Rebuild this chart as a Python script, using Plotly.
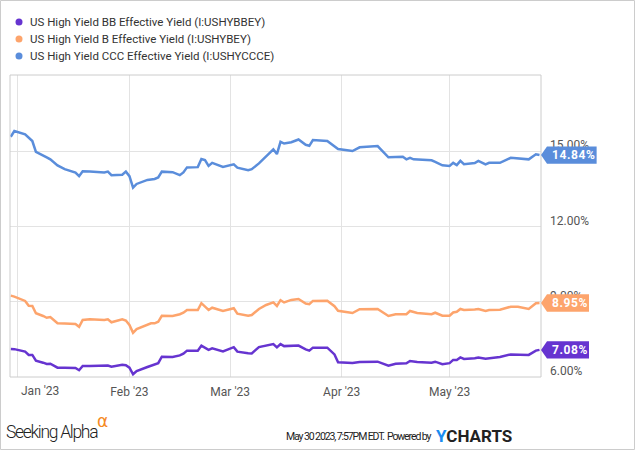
import plotly.graph_objects as go

# ---------------- data ----------------
dates = [
    "2022-12-30", "2022-12-31", "2023-01-03", "2023-01-04", "2023-01-05", "2023-01-06",
    "2023-01-08", "2023-01-09", "2023-01-10", "2023-01-12", "2023-01-14", "2023-01-17",
    "2023-01-18", "2023-01-19", "2023-01-21", "2023-01-23", "2023-01-25", "2023-01-26",
    "2023-01-27", "2023-01-30", "2023-01-31", "2023-02-01", "2023-02-02", "2023-02-03",
    "2023-02-06", "2023-02-07", "2023-02-08", "2023-02-09", "2023-02-10", "2023-02-13",
    "2023-02-15", "2023-02-16", "2023-02-17", "2023-02-20", "2023-02-21", "2023-02-22",
    "2023-02-23", "2023-02-24", "2023-02-27", "2023-03-02", "2023-03-03", "2023-03-06",
    "2023-03-07", "2023-03-09", "2023-03-11", "2023-03-13", "2023-03-14", "2023-03-15",
    "2023-03-16", "2023-03-18", "2023-03-20", "2023-03-22", "2023-03-23", "2023-03-24",
    "2023-03-28", "2023-03-30", "2023-03-31", "2023-04-04", "2023-04-06", "2023-04-11",
    "2023-04-14", "2023-04-16", "2023-04-18", "2023-04-19", "2023-04-20", "2023-04-21",
    "2023-04-22", "2023-04-26", "2023-04-27", "2023-04-29", "2023-05-01", "2023-05-02",
    "2023-05-03", "2023-05-04", "2023-05-05", "2023-05-08", "2023-05-09", "2023-05-11",
    "2023-05-12", "2023-05-15", "2023-05-18", "2023-05-20", "2023-05-23", "2023-05-25",
    "2023-05-26",
]

ccc = [
    15.57, 15.80, 15.67, 15.53, 15.40, 14.97,
    14.84, 14.75, 14.67, 14.43, 14.28, 14.14,
    14.00, 14.20, 14.19, 14.18, 14.15, 14.18,
    14.04, 14.06, 14.18, 14.00, 13.54, 13.69,
    13.85, 13.87, 13.89, 13.95, 14.18, 14.16,
    14.04, 14.15, 14.35, 14.36, 14.68, 14.64,
    14.41, 14.53, 14.37, 14.47, 14.34, 14.24,
    14.28, 14.51, 14.77, 15.07, 14.88, 15.37,
    15.30, 15.35, 15.46, 15.25, 15.21, 15.44,
    15.40, 15.20, 15.08, 15.00, 15.15, 15.20,
    14.75, 14.76, 14.77, 14.67, 14.73, 14.67,
    14.66, 14.63, 14.57, 14.43, 14.41, 14.53,
    14.44, 14.61, 14.48, 14.52, 14.61, 14.47,
    14.53, 14.53, 14.73, 14.70, 14.67, 14.87,
    14.84,
]

b = [
    9.24, 9.20, 9.03, 8.84, 8.83, 8.54,
    8.43, 8.36, 8.39, 8.14, 8.13, 8.11,
    8.00, 8.27, 8.30, 8.29, 8.27, 8.30,
    8.18, 8.30, 8.25, 8.07, 7.76, 7.91,
    8.08, 8.14, 8.14, 8.20, 8.44, 8.43,
    8.50, 8.56, 8.67, 8.67, 8.94, 8.80,
    8.67, 8.76, 8.63, 8.74, 8.52, 8.44,
    8.47, 8.71, 8.87, 8.97, 8.83, 9.06,
    8.97, 9.07, 9.11, 8.93, 8.90, 9.03,
    9.04, 8.82, 8.64, 8.55, 8.70, 8.71,
    8.43, 8.50, 8.50, 8.50, 8.63, 8.58,
    8.55, 8.50, 8.56, 8.44, 8.44, 8.57,
    8.60, 8.71, 8.67, 8.69, 8.71, 8.63,
    8.67, 8.68, 8.80, 8.80, 8.71, 8.94,
    8.95,
]

bb = [
    7.12, 7.11, 7.01, 6.88, 6.88, 6.65,
    6.57, 6.52, 6.53, 6.37, 6.37, 6.36,
    6.27, 6.44, 6.44, 6.44, 6.44, 6.46,
    6.41, 6.49, 6.47, 6.37, 6.11, 6.24,
    6.40, 6.45, 6.50, 6.55, 6.81, 6.80,
    6.86, 6.93, 7.05, 7.05, 7.25, 7.15,
    7.08, 7.14, 7.02, 7.19, 7.01, 6.95,
    6.94, 7.19, 7.26, 7.31, 7.18, 7.31,
    7.23, 7.24, 7.25, 7.10, 7.05, 7.17,
    7.17, 6.90, 6.59, 6.56, 6.60, 6.61,
    6.45, 6.53, 6.53, 6.55, 6.64, 6.62,
    6.60, 6.57, 6.61, 6.51, 6.55, 6.68,
    6.68, 6.78, 6.72, 6.75, 6.78, 6.73,
    6.75, 6.80, 6.90, 6.89, 6.88, 7.05,
    7.08,
]

series_names = [
    "US High Yield BB Effective Yield (I:USHYBBEY)",
    "US High Yield B Effective Yield (I:USHYBEY)",
    "US High Yield CCC Effective Yield (I:USHYCCCE)",
]
series_values = [bb, b, ccc]
series_colors = ["#6634d0", "#fda46c", "#5a8ddb"]
last_labels = ["7.08%", "8.95%", "14.84%"]

x_tick_vals = ["2023-01-01", "2023-02-01", "2023-03-01", "2023-04-01", "2023-05-01"]
x_tick_text = ["", "Feb '23", "Mar '23", "Apr '23", "May '23"]
y_tick_vals = [6, 9, 12, 15]
y_tick_text = ["6.00%", "9.00%", "12.00%", "15.00%"]

# ---------------- layout geometry ----------------
W, H = 635, 450
ML, MR, MT, MB = 10, 94, 75, 73
PW, PH = W - ML - MR, H - MT - MB
Y0, Y1 = 6.0, 18.03
px_per_unit = PH / (Y1 - Y0)


def px_x(p):
    return (p - ML) / PW


def px_y(p):
    return 1 - (p - MT) / PH


fig = go.Figure()

for name, vals, col in zip(series_names[::-1], series_values[::-1], series_colors[::-1]):
    fig.add_trace(go.Scatter(x=dates, y=vals, mode="lines", name=name,
                             line=dict(color=col, width=2.5), showlegend=False,
                             hoverinfo="skip"))

shapes = []
annotations = []

# plot border
shapes.append(dict(type="rect", xref="paper", yref="paper", x0=0, x1=1, y0=0, y1=1,
                   line=dict(color="#cccccc", width=1), layer="above"))
# outer frame
shapes.append(dict(type="rect", xref="paper", yref="paper",
                   x0=px_x(0.5), x1=px_x(W - 0.5), y0=px_y(H - 0.5), y1=px_y(0.5),
                   line=dict(color="#cccccc", width=1), layer="below"))

# last value flags
for vals, col, lab in zip(series_values, series_colors, last_labels):
    v = vals[-1]
    h = 8.7 / px_per_unit
    tip = 1.0
    body = 1 + 6 / PW
    right = 1 + (len(lab) * 7.6 + 10) / PW
    path = (f"M {tip},{v} L {body},{v + h} L {right},{v + h} "
            f"L {right},{v - h} L {body},{v - h} Z")
    shapes.append(dict(type="path", xref="paper", yref="y", path=path,
                       fillcolor=col, line=dict(width=0), layer="above"))
    annotations.append(dict(x=1 + 9 / PW, y=v, xref="paper", yref="y",
                            text=f"<span style='letter-spacing:0.6px'>{lab}</span>",
                            showarrow=False, xanchor="left", yanchor="middle",
                            font=dict(family="Roboto", size=12, color="white", weight="bold")))

# legend (dots + text)
for i, (name, col) in enumerate(zip(series_names, series_colors)):
    yc = 22 + i * 17
    shapes.append(dict(type="circle", xref="paper", yref="paper",
                       xsizemode="pixel", ysizemode="pixel",
                       xanchor=px_x(19), yanchor=px_y(yc),
                       x0=-3.5, x1=3.5, y0=-3.5, y1=3.5,
                       fillcolor=col, line=dict(width=0)))
    annotations.append(dict(x=px_x(28), y=px_y(yc), xref="paper", yref="paper",
                            text=name, showarrow=False, xanchor="left", yanchor="middle",
                            font=dict(family="Roboto", size=11.5, color="#333333")))

# Jan label (shifted inside like the original)
annotations.append(dict(x="2023-01-01", y=px_y(391), xref="x", yref="paper", text="Jan '23",
                        showarrow=False, xanchor="left", yanchor="middle", xshift=1,
                        font=dict(family="Roboto", size=12, color="#555555")))

# footer
annotations.append(dict(x=px_x(4), y=px_y(432), xref="paper", yref="paper",
                        text="<span style='letter-spacing:-1.3px'>Seeking Alpha</span>",
                        showarrow=False, xanchor="left", yanchor="middle",
                        font=dict(family="Roboto", size=17.5, color="#222222", weight=300)))
annotations.append(dict(x=px_x(95), y=px_y(421), xref="paper", yref="paper",
                        text="α", showarrow=False, xanchor="left", yanchor="middle",
                        font=dict(family="DejaVu Sans, Roboto", size=17, color="#f58a1f")))
annotations.append(dict(x=px_x(433), y=px_y(437), xref="paper", yref="paper",
                        text="<span style='letter-spacing:-1.1px'>May 30 2023, 7:57PM EDT.  Powered by</span>",
                        showarrow=False, xanchor="right", yanchor="middle",
                        font=dict(family="Roboto", size=10.5, color="#222222")))
annotations.append(dict(x=px_x(434), y=px_y(436), xref="paper", yref="paper",
                        text="<span style='color:#1a8cf0'>Y</span>CHARTS", showarrow=False,
                        xanchor="left", yanchor="middle",
                        font=dict(family="Roboto", size=17, color="#222222", weight="bold")))

fig.update_layout(
    width=W, height=H,
    margin=dict(l=ML, r=MR, t=MT, b=MB),
    paper_bgcolor="white", plot_bgcolor="white",
    showlegend=False,
    shapes=shapes, annotations=annotations,
    xaxis=dict(type="date", range=["2022-12-29 19:00", "2023-05-26 10:00"],
               tickvals=x_tick_vals, ticktext=x_tick_text,
               showgrid=True, gridcolor="#e3e3e3", gridwidth=1,
               zeroline=False, showline=False, ticks="",
               ticklabelstandoff=6,
               tickfont=dict(family="Roboto", size=12, color="#555555")),
    yaxis=dict(range=[Y0, Y1], side="right", tickvals=y_tick_vals, ticktext=y_tick_text,
               showgrid=True, gridcolor="#e3e3e3", gridwidth=1,
               zeroline=False, showline=False, ticks="",
               ticklabelshift=-6, ticklabelstandoff=8,
               tickfont=dict(family="Roboto", size=12, color="#555555")),
)

fig.write_html("out.html")
